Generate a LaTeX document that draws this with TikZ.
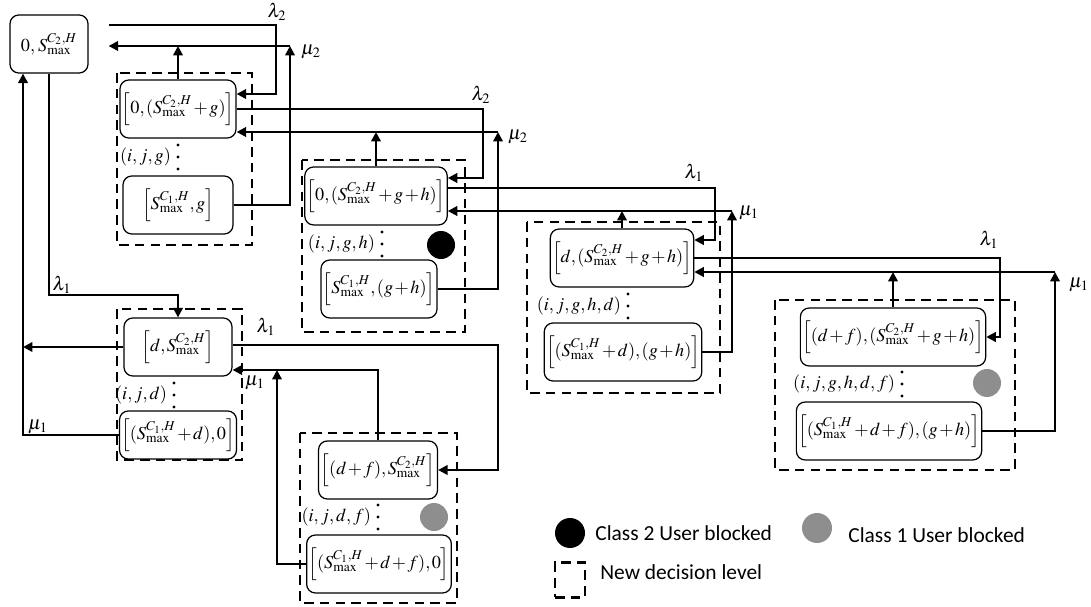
\documentclass[tikz,border=0pt]{standalone}
\usepackage{amsmath}
\usepackage{mathptmx}
\usepackage{fontspec}
\newfontfamily\legendfont{Carlito}
\usetikzlibrary{arrows.meta}
\definecolor{dotgrey}{HTML}{8E8E8E}
\newcommand{\Smx}[1]{S_{\max}^{C_{#1},H}}
\newcommand{\tightmath}{\fontsize{10.4}{13}\selectfont\medmuskip=1.5mu\thinmuskip=1.5mu}
\tikzset{
  >={Triangle[length=1.9mm,width=1.9mm]},
  state/.style  ={draw,rounded corners=5pt,line width=0.7pt,
                  minimum height=11.6mm,inner sep=1pt,font=\tightmath},
  level/.style  ={draw,line width=1.3pt,dash pattern=on 5.5pt off 3.5pt},
  flow/.style   ={->,line width=1.3pt},
  rate/.style   ={inner sep=1pt,font=\fontsize{11}{13}\selectfont},
  tag/.style    ={inner sep=1pt,anchor=east,font=\fontsize{10.4}{13}\selectfont},
  blktwo/.style ={circle,fill=black,minimum size=5.6mm,inner sep=0pt},
  blkone/.style ={circle,fill=dotgrey,minimum size=5.6mm,inner sep=0pt},
  legtxt/.style ={font=\legendfont\fontsize{12.2}{14}\selectfont,anchor=west,inner sep=0pt},
}
% three stacked dots below a state, centred on a named coordinate
\newcommand{\stackdots}[1]{\foreach \k in {-1,0,1} \fill ([yshift=\k*2.4mm]#1) circle (0.95pt);}

\begin{document}
\begin{tikzpicture}[x=0.02cm,y=-0.02cm]
\useasboundingbox (0,0) rectangle (1091,607);
%---------------- top state
\node[state,minimum width=15.6mm] (A0) at (49,44) {$0,\,\Smx{2}$};
%---------------- level (i,j,g)
\draw[level] (117,73) rectangle (252,245);
\node[state,minimum width=22mm] (B1a) at (178,109) {$\left[0,(\Smx{2}+g)\right]$};
\coordinate (d1) at (178,157); \stackdots{d1}
\node[tag] at ([xshift=-1mm]d1) {$(i,j,g)$};
\node[state,minimum width=22mm] (B1b) at (178,205) {$\left[\Smx{1},g\right]$};
\coordinate (l2p) at (276,25);
\coordinate (m2p) at (290,46);
\draw[flow,shorten <=4mm] (A0.east |- l2p) -- (l2p) |- ([yshift=3mm]B1a.east);
\draw[flow] (B1b.east) -| (m2p);
\draw[flow,shorten >=4mm] (m2p) -- (A0.east |- m2p);
\draw[flow] (B1a.north) -- (B1a.north |- m2p);
\node[rate] at (277,12) {$\lambda_2$};
\node[rate] at (311,52) {$\mu_2$};
%---------------- level (i,j,g,h)
\draw[level] (302,160) rectangle (465,332);
\node[state,minimum width=27.4mm] (B2a) at (376,196) {$\left[0,(\Smx{2}+g+h)\right]$};
\coordinate (d2) at (382,244); \stackdots{d2}
\node[tag] at ([xshift=-1mm]d2) {$(i,j,g,h)$};
\node[blktwo] (c2) at (441,245) {};
\node[state,minimum width=21.6mm] (B2b) at (379,289) {$\left[\Smx{1},(g+h)\right]$};
\coordinate (l2q) at (483,150);
\coordinate (m2q) at (498,132);
\draw[flow] (B1a.east) -| (l2q) |- ([yshift=3.6mm]B2a.east);
\draw[flow] (B2b.east) -| (m2q);
\draw[flow] (m2q) -- (B1a.east |- m2q);
\draw[flow] (B2a.north) -- (B2a.north |- m2q);
\node[rate] at (481,95) {$\lambda_2$};
\node[rate] at (518,137) {$\mu_2$};
%---------------- level (i,j,g,h,d)
\draw[level] (527,222) rectangle (720,393);
\node[state,minimum width=27mm] (B3a) at (622,258) {$\left[d,(\Smx{2}+g+h)\right]$};
\coordinate (d3) at (628,306); \stackdots{d3}
\node[tag] at ([xshift=-1mm]d3) {$(i,j,g,h,d)$};
\node[state,minimum width=29.4mm] (B3b) at (623,352) {$\left[(\Smx{1}+d),(g+h)\right]$};
\coordinate (l1a) at (715,215);
\coordinate (m1a) at (732,211);
\draw[flow] ([yshift=1.6mm]B2a.east) -| (l1a) |- ([yshift=3.6mm]B3a.east);
\draw[flow] (B3b.east) -| (m1a);
\draw[flow] (m1a) -- (B2a.east |- m1a);
\draw[flow] (B3a.north) -- (B3a.north |- m1a);
\node[rate] at (694,173) {$\lambda_1$};
\node[rate] at (749,213) {$\mu_1$};
%---------------- level (i,j,g,h,d,f)
\draw[level] (775,300) rectangle (1015,470);
\node[state,minimum width=36mm] (B4a) at (893,337) {$\left[(d+f),(\Smx{2}+g+h)\right]$};
\coordinate (d4) at (902,384); \stackdots{d4}
\node[tag] at ([xshift=-1mm]d4) {$(i,j,g,h,d,f)$};
\node[blkone] (c4) at (987,383) {};
\node[state,minimum width=36.4mm] (B4b) at (889,431) {$\left[(\Smx{1}+d+f),(g+h)\right]$};
\coordinate (l1b) at (1000,300);
\coordinate (m1b) at (1055,272);
\draw[flow] (B3a.east) -| (l1b) |- (B4a.east);
\draw[flow] (B4b.east) -| (m1b);
\draw[flow] (m1b) -- (B3a.east |- m1b);
\draw[flow] (B4a.north) -- (B4a.north |- m1b);
\node[rate] at (989,240) {$\lambda_1$};
\node[rate] at (1079,285) {$\mu_1$};
%---------------- level (i,j,d)
\draw[level] (117,309) rectangle (242,460);
\node[state,minimum width=21.6mm] (B5a) at (178,347) {$\left[d,\Smx{2}\right]$};
\coordinate (d5) at (174,395); \stackdots{d5}
\node[tag] at ([xshift=-1mm]d5) {$(i,j,d)$};
\node[state,minimum width=21.6mm,minimum height=9.6mm] (B5b) at (178,435) {$\left[(\Smx{1}+d),0\right]$};
\coordinate (l1c) at (115,295);
\coordinate (m1c) at (23,440);
\draw[flow] (A0.south) |- (l1c) -| (B5a.north);
\draw[flow] (B5a.west) -- (B5a.west -| m1c);
\draw[flow] (B5b.west) -- (B5b.west -| m1c) -- (m1c |- A0.south);
\node[rate] at (62,285) {$\lambda_1$};
\node[rate] at (38,427) {$\mu_1$};
%---------------- level (i,j,d,f)
\draw[level] (300,433) rectangle (457,603);
\node[state,minimum width=23.8mm] (B6a) at (378,470) {$\left[(d+f),\Smx{2}\right]$};
\coordinate (d6) at (378,517); \stackdots{d6}
\node[tag] at ([xshift=-1mm]d6) {$(i,j,d,f)$};
\node[blkone] (c6) at (434,517) {};
\node[state,minimum width=28.4mm] (B6b) at (379,564) {$\left[(\Smx{1}+d+f),0\right]$};
\coordinate (l1d) at (498,400);
\coordinate (m1d) at (277,370);
\draw[flow] ([yshift=0.4mm]B5a.east) -| (l1d) |- (B6a.east);
\draw[flow] (B6a.north) |- (B5a.east |- m1d);
\draw[flow] (B6b.west) -| (m1d);
\node[rate] at (266,327) {$\lambda_1$};
\node[rate] at (255,383) {$\mu_1$};
%---------------- legend
\node[blktwo,minimum size=6mm] (k2) at (570,533) {};
\node[legtxt] (t2) at (595,533) {Class 2 User blocked};
\node[blkone,minimum size=6mm] (k1) at (817,528) {};
\node[legtxt] (t1) at (848,535) {Class 1 User blocked};
\node[level,minimum width=6mm,minimum height=7mm] (kl) at (570,580) {};
\node[legtxt] (tl) at (600,572) {New decision level};
\end{tikzpicture}
\end{document}
